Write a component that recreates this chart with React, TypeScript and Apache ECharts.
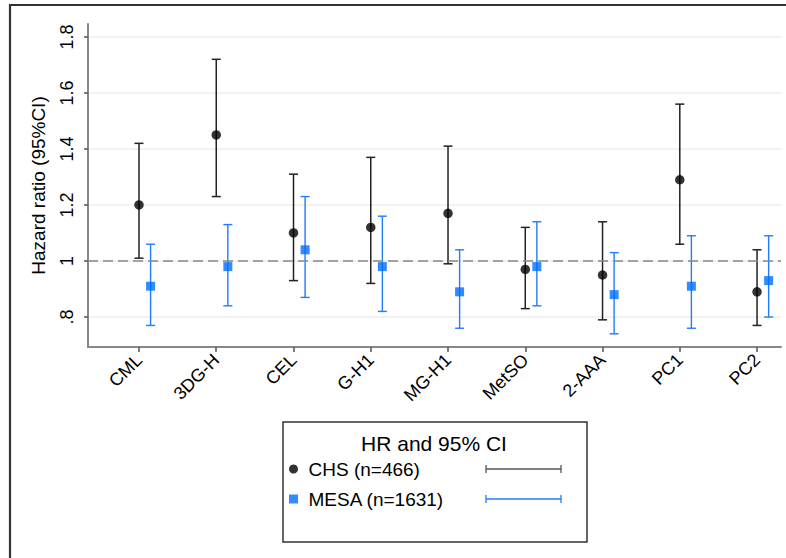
import React, { useEffect, useRef } from "react";
import * as echarts from "echarts";

const categories = ["CML", "3DG-H", "CEL", "G-H1", "MG-H1", "MetSO", "2-AAA", "PC1", "PC2"];

const chsHR = [1.2, 1.45, 1.1, 1.12, 1.17, 0.97, 0.95, 1.29, 0.89];
const chsLow = [1.01, 1.23, 0.93, 0.92, 0.99, 0.83, 0.79, 1.06, 0.77];
const chsHigh = [1.42, 1.72, 1.31, 1.37, 1.41, 1.12, 1.14, 1.56, 1.04];

const mesaHR = [0.91, 0.98, 1.04, 0.98, 0.89, 0.98, 0.88, 0.91, 0.93];
const mesaLow = [0.77, 0.84, 0.87, 0.82, 0.76, 0.84, 0.74, 0.76, 0.8];
const mesaHigh = [1.06, 1.13, 1.23, 1.16, 1.04, 1.14, 1.03, 1.09, 1.09];

const yTicks = [0.8, 1, 1.2, 1.4, 1.6, 1.8];
const yTickLabels = [".8", "1", "1.2", "1.4", "1.6", "1.8"];

const chsName = "CHS (n=466)";
const mesaName = "MESA (n=1631)";
const legendTitle = "HR and 95% CI";
const yAxisTitle = "Hazard ratio (95%CI)";

const FONT = "'Liberation Sans', Arial, Helvetica, sans-serif";
const BLACK = "#000000";
const BAR_BLACK = "#222222";
const BLUE = "#006eff";
const BAR_BLUE = "#1f7bff";
const MESA_OFFSET = 0.15;

function errorBarRender(color: string, lw: number) {
  return (params: any, api: any) => {
    const x = api.value(0);
    const lo = api.coord([x, api.value(1)]);
    const hi = api.coord([x, api.value(2)]);
    const w = 4.5;
    const style = { stroke: color, lineWidth: lw };
    return {
      type: "group",
      children: [
        { type: "line", shape: { x1: lo[0], y1: lo[1], x2: hi[0], y2: hi[1] }, style },
        { type: "line", shape: { x1: lo[0] - w, y1: lo[1], x2: lo[0] + w, y2: lo[1] }, style },
        { type: "line", shape: { x1: hi[0] - w, y1: hi[1], x2: hi[0] + w, y2: hi[1] }, style },
      ],
    };
  };
}

export default function App() {
  const ref = useRef<HTMLDivElement>(null);

  useEffect(() => {
    if (!ref.current) return;
    const chart = echarts.init(ref.current, undefined, { renderer: "svg" });

    const xPos = categories.map((_, i) => i + 1);
    const chsBars = xPos.map((x, i) => [x, chsLow[i], chsHigh[i]]);
    const mesaBars = xPos.map((x, i) => [x + MESA_OFFSET, mesaLow[i], mesaHigh[i]]);
    const chsPts = xPos.map((x, i) => [x, chsHR[i]]);
    const mesaPts = xPos.map((x, i) => [x + MESA_OFFSET, mesaHR[i]]);

    const barSampleY1 = 469;
    const barSampleY2 = 499;
    const bx1 = 486;
    const bx2 = 561;
    const sampleGrey = "#555555";

    chart.setOption({
      animation: false,
      backgroundColor: "#ffffff",
      textStyle: { fontFamily: FONT },
      grid: { left: 88, right: 5, top: 24, bottom: 211, containLabel: false },
      xAxis: {
        type: "value",
        min: 0.34,
        max: 9.31,
        axisLine: { show: true, onZero: false, lineStyle: { color: "#888888", width: 2 } },
        axisTick: { show: true, length: 5, customValues: xPos, lineStyle: { color: "#555555", width: 1.5 } },
        axisLabel: {
          customValues: xPos,
          rotate: 45,
          margin: 10,
          fontSize: 18,
          color: "#000000",
          fontFamily: FONT,
          formatter: (v: number) => categories[Math.round(v) - 1] ?? "",
        },
        splitLine: { show: false },
      },
      yAxis: {
        type: "value",
        min: 0.693,
        max: 1.846,
        name: yAxisTitle,
        nameLocation: "middle",
        nameGap: 40,
        nameTextStyle: { fontSize: 19, color: "#000000", fontFamily: FONT },
        axisLine: { show: true, lineStyle: { color: "#888888", width: 2 } },
        axisTick: { show: true, length: 4, customValues: yTicks, lineStyle: { color: "#555555", width: 1.5 } },
        axisLabel: {
          customValues: yTicks,
          rotate: 90,
          margin: 12,
          fontSize: 18,
          color: "#000000",
          fontFamily: FONT,
          formatter: (v: number) => {
            const idx = yTicks.findIndex((t) => Math.abs(t - v) < 1e-6);
            return idx >= 0 ? yTickLabels[idx] : "";
          },
        },
        splitLine: { show: true, lineStyle: { color: "#eeeeee", width: 1.5 } },
      },
      legend: {
        orient: "vertical",
        left: 289,
        top: 459,
        padding: 0,
        itemWidth: 20,
        itemHeight: 9,
        itemGap: 10,
        symbolKeepAspect: true,
        data: [
          { name: chsName, icon: "circle" },
          { name: mesaName, icon: "path://M0,0L10,0L10,10L0,10Z" },
        ],
        textStyle: { fontSize: 19, color: "#000000", fontFamily: FONT, lineHeight: 20 },
        selectedMode: false,
      },
      series: [
        {
          type: "custom",
          name: "chsBars",
          renderItem: errorBarRender(BAR_BLACK, 1.5),
          data: chsBars,
          encode: { x: 0, y: [1, 2] },
          z: 2,
          markLine: {
            silent: true,
            symbol: "none",
            label: { show: false },
            lineStyle: { color: "#888888", type: [10, 5], width: 1.6 },
            data: [{ yAxis: 1 }],
          },
        },
        {
          type: "custom",
          name: "mesaBars",
          renderItem: errorBarRender(BAR_BLUE, 1.4),
          data: mesaBars,
          encode: { x: 0, y: [1, 2] },
          z: 2,
        },
        {
          type: "scatter",
          name: chsName,
          symbol: "circle",
          symbolSize: 9.5,
          itemStyle: { color: BLACK },
          data: chsPts,
          z: 5,
        },
        {
          type: "scatter",
          name: mesaName,
          symbol: "rect",
          symbolSize: 9,
          itemStyle: { color: BLUE },
          data: mesaPts,
          z: 5,
        },
      ],
      graphic: [
        {
          type: "rect",
          shape: { x: 10, y: 5, width: 800, height: 600 },
          style: { fill: "none", stroke: "#333333", lineWidth: 2.2 },
          silent: true,
        },
        {
          type: "rect",
          shape: { x: 283, y: 422, width: 304, height: 120 },
          style: { fill: "none", stroke: "#333333", lineWidth: 1.5 },
          silent: true,
        },
        {
          type: "text",
          x: 434,
          y: 443,
          style: {
            text: legendTitle,
            fontSize: 21,
            fontFamily: FONT,
            fill: "#000000",
            align: "center",
            verticalAlign: "middle",
          },
          silent: true,
        },
        {
          type: "group",
          silent: true,
          children: [
            { type: "line", shape: { x1: bx1, y1: barSampleY1, x2: bx2, y2: barSampleY1 }, style: { stroke: sampleGrey, lineWidth: 1.3 } },
            { type: "line", shape: { x1: bx1, y1: barSampleY1 - 4, x2: bx1, y2: barSampleY1 + 4 }, style: { stroke: sampleGrey, lineWidth: 1.3 } },
            { type: "line", shape: { x1: bx2, y1: barSampleY1 - 4, x2: bx2, y2: barSampleY1 + 4 }, style: { stroke: sampleGrey, lineWidth: 1.3 } },
            { type: "line", shape: { x1: bx1, y1: barSampleY2, x2: bx2, y2: barSampleY2 }, style: { stroke: BAR_BLUE, lineWidth: 1.3 } },
            { type: "line", shape: { x1: bx1, y1: barSampleY2 - 4, x2: bx1, y2: barSampleY2 + 4 }, style: { stroke: BAR_BLUE, lineWidth: 1.3 } },
            { type: "line", shape: { x1: bx2, y1: barSampleY2 - 4, x2: bx2, y2: barSampleY2 + 4 }, style: { stroke: BAR_BLUE, lineWidth: 1.3 } },
          ],
        },
      ],
    });

    return () => chart.dispose();
  }, []);

  return (
    <div
      ref={ref}
      style={{ position: "absolute", left: 0, top: 0, width: 786, height: 558, background: "#ffffff" }}
    />
  );
}
